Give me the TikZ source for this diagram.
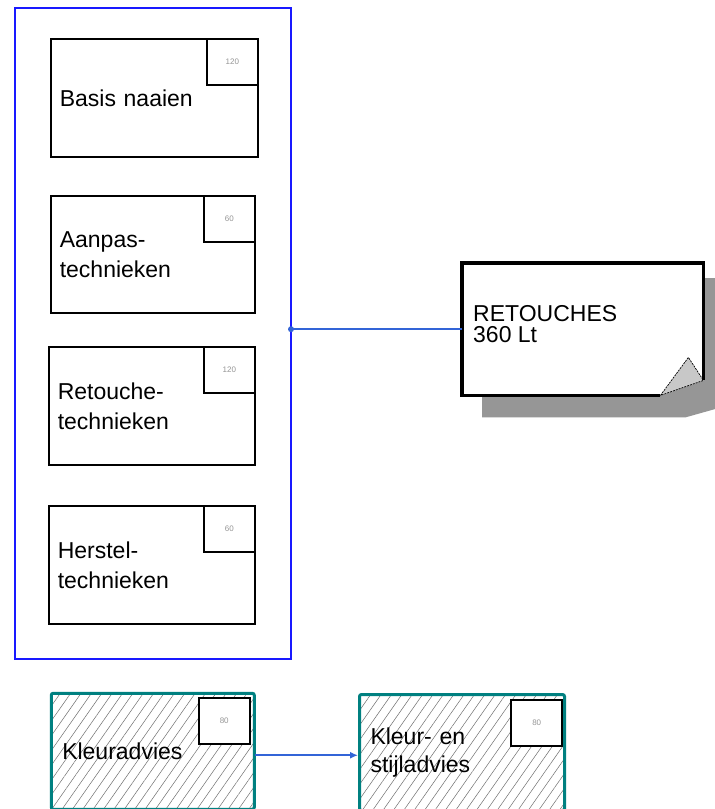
\documentclass[tikz,border=0pt]{standalone}
\usepackage{fontspec}
\setmainfont{Liberation Sans}
\usetikzlibrary{patterns.meta,arrows.meta,calc}
\definecolor{frameblue}{RGB}{25,25,255}
\definecolor{connblue}{RGB}{50,100,215}
\definecolor{tealc}{RGB}{0,128,128}
\definecolor{numgray}{RGB}{150,150,150}
\definecolor{shadowgray}{RGB}{150,150,150}
\definecolor{foldgray}{RGB}{200,200,200}
\definecolor{hatchgray}{RGB}{110,110,110}
\begin{document}
\begin{tikzpicture}[x=1pt,y=-1pt,
  frame/.style={draw=frameblue,line width=2pt,anchor=north west,inner sep=0pt},
  box/.style={draw=black,line width=1.6pt,anchor=north west,inner sep=0pt,inner xsep=9pt,align=left,font=\fontsize{23}{30}\selectfont},
  kbox/.style={draw=tealc,line width=3pt,rounded corners=2pt,anchor=north west,inner sep=0pt,inner xsep=11pt,align=left,
    pattern={Lines[angle=55,distance=8.5pt,line width=0.5pt]},pattern color=hatchgray,font=\fontsize{23}{28}\selectfont},
  numbox/.style={draw=black,fill=white,line width=1.6pt,anchor=north east,inner sep=0pt,minimum width=51pt,minimum height=46pt,
    font=\fontsize{8}{9}\selectfont,text=numgray},
  notebox/.style={anchor=north west,inner sep=0pt,minimum width=241pt,minimum height=132pt},
  notetext/.style={anchor=north west,inner sep=0pt,align=left,font=\fontsize{23}{21}\selectfont},
  conn/.style={draw=connblue,line width=1.8pt}
]
\useasboundingbox (0,0) rectangle (715,809);
\clip (0,0) rectangle (715,809);
\fill[white] (0,0) rectangle (715,809);

% blue frame
\node[frame,minimum width=276pt,minimum height=651pt] (frame) at (14,7) {};

% boxes in frame
\node[box,minimum width=207pt,minimum height=118pt,text width=189pt] (b1) at (50,38) {Basis naaien};
\node[numbox] (n1) at (b1.north east) {120};
\node[box,minimum width=204pt,minimum height=117pt,text width=186pt] (b2) at (50,195) {Aanpas-\\technieken};
\node[numbox] (n2) at (b2.north east) {60};
\node[box,minimum width=206pt,minimum height=118pt,text width=188pt] (b3) at (48,346) {Retouche-\\technieken};
\node[numbox] (n3) at (b3.north east) {120};
\node[box,minimum width=206pt,minimum height=118pt,text width=188pt] (b4) at (48,505) {Herstel-\\technieken};
\node[numbox] (n4) at (b4.north east) {60};

% note with shadow
\node[notebox] (note) at (462,263) {};
\fill[shadowgray] ($(note.north west)+(20,15)$) -- ($(note.north east)+(14,15)$) -- ($(note.south east)+(14,13)$)
  -- ($(note.south east)+(-18,22)$) -- ($(note.south west)+(20,22)$) -- cycle;
\fill[white] (note.north west) -- (note.north east) -- ($(note.south east)+(0,-15)$) -- ($(note.south east)+(-43,0)$) -- (note.south west) -- cycle;
\fill[foldgray] ($(note.south east)+(-43,0)$) -- ($(note.south east)+(-15,-38)$) -- ($(note.south east)+(0,-15)$) -- cycle;
\draw[black,line width=0.7pt,dash pattern=on 2pt off 1pt] ($(note.south east)+(-43,0)$) -- ($(note.south east)+(-15,-38)$) -- ($(note.south east)+(0,-15)$) -- cycle;
\draw[black,line width=3.5pt,line join=miter] ($(note.south east)+(-43,0)$) -- (note.south west) -- (note.north west) -- (note.north east) -- ($(note.south east)+(0,-15)$);
\node[notetext] (notelabel) at ($(note.north west)+(11,42)$) {RETOUCHES\\360 Lt};

% connector frame -> note
\draw[conn] (frame.east |- note.west) -- (note.west);
\fill[connblue] ($(frame.east |- note.west)+(-1,0)$) circle[radius=3pt];

% bottom boxes
\node[kbox,minimum width=203pt,minimum height=116pt,text width=181pt] (k1) at (51,693) {Kleuradvies};
\node[numbox,minimum width=51pt,minimum height=46pt] (n5) at ($(k1.north east)+(-4,4)$) {80};
\node[kbox,minimum width=205pt,minimum height=116pt,text width=183pt] (k2) at (358,693) {Kleur- en\\stijladvies};
\node[numbox,minimum width=51pt,minimum height=46pt] (n6) at ($(k2.north east)+(-3,6)$) {80};

\coordinate (a1) at ($(k1.east)+(0,4)$);
\draw[conn,-{Latex[length=8pt,width=7pt]}] (a1) -- (a1 -| k2.west);
\end{tikzpicture}
\end{document}
